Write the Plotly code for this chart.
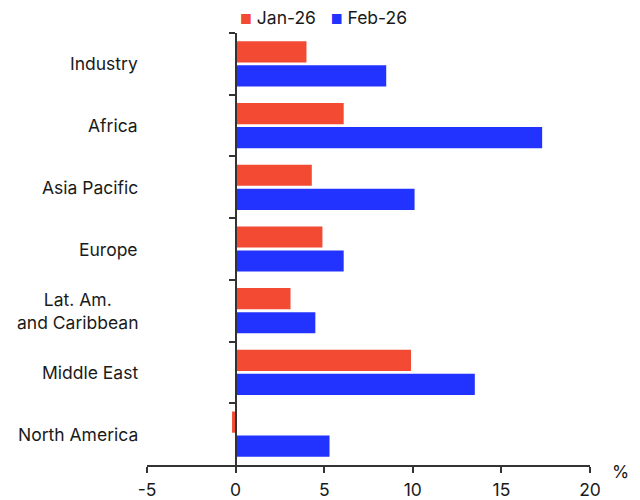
import plotly.graph_objects as go

categories = ["Industry", "Africa", "Asia Pacific", "Europe",
              "Lat. Am.<br>and Caribbean", "Middle East", "North America"]
jan_26 = [4.0, 6.1, 4.3, 4.9, 3.1, 9.9, -0.2]
feb_26 = [8.5, 17.3, 10.1, 6.1, 4.5, 13.5, 5.3]
x_ticks = [-5, 0, 5, 10, 15, 20]
x_tick_labels = ["-5", "0", "5", "10", "15", "20"]
series_names = ["Jan-26", "Feb-26"]
colors = ["#F24A33", "#2233FF"]

FONT = "Inter, Roboto, Arial, sans-serif"
TXT = "#1a1a1a"
FS = 17.5

fig = go.Figure()
fig.add_trace(go.Bar(y=categories, x=jan_26, name=series_names[0], orientation="h",
                     marker=dict(color=colors[0], line=dict(width=0))))
fig.add_trace(go.Bar(y=categories, x=feb_26, name=series_names[1], orientation="h",
                     marker=dict(color=colors[1], line=dict(width=0))))

xmin, xmax = -5, 20
fig.update_layout(
    width=640, height=500,
    margin=dict(l=147, r=50, t=33, b=35, autoexpand=False),
    paper_bgcolor="white", plot_bgcolor="white",
    font=dict(family=FONT, size=FS, color=TXT),
    barmode="group", bargap=0.22, bargroupgap=0.12,
    showlegend=False,
    xaxis=dict(range=[xmin, xmax], tickvals=x_ticks, ticktext=x_tick_labels,
               showgrid=False, zeroline=False,
               showline=True, linecolor="#333", linewidth=1.5,
               ticks="outside", ticklen=6, tickcolor="#333", tickwidth=1.5,
               ticklabelstandoff=2,
               tickfont=dict(size=FS, color=TXT)),
    yaxis=dict(categoryorder="array", categoryarray=categories, autorange="reversed",
               showgrid=False, zeroline=False, showline=True, linecolor="#333", linewidth=1.5,
               ticks="outside", tickson="boundaries", ticklen=6, tickcolor="#333", tickwidth=1.5,
               showticklabels=False,
               anchor="free", position=(0 - xmin) / (xmax - xmin)),
)

for c in categories:
    fig.add_annotation(x=-0.016, xref="paper", y=c, yref="y", text=c,
                       showarrow=False, xanchor="right", align="center",
                       font=dict(size=FS, color=TXT))

fig.add_annotation(x=1.068, xref="paper", y=-0.016, yref="paper", text="%",
                   showarrow=False, xanchor="center", yanchor="middle",
                   font=dict(size=FS, color=TXT))

legend_text = "   ".join(
    f"<span style='color:{col};font-size:13px'>■</span> {nm}"
    for nm, col in zip(series_names, colors))
fig.add_annotation(x=0.398, xref="paper", y=1 + (33 - 17) / 432, yref="paper",
                   yanchor="middle", xanchor="center", text=legend_text,
                   showarrow=False, font=dict(size=FS, color=TXT))

fig.write_html("out.html")
